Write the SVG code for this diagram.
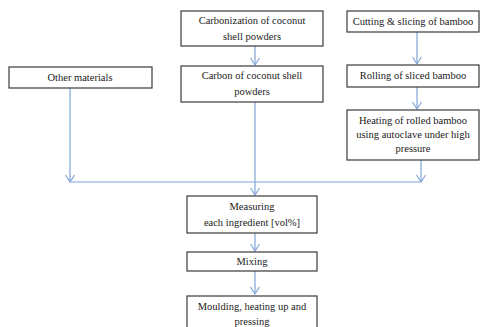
<svg xmlns="http://www.w3.org/2000/svg" width="485" height="327" viewBox="0 0 485 327">
<style>
.b{fill:#fff;stroke:#3a3a3a;stroke-width:1.2}
.t{font-family:"Liberation Serif",serif;font-size:10.5px;fill:#1a1a1a;text-anchor:middle}
.c{fill:none;stroke:#7ea6d8;stroke-width:1.2}
</style>
<defs>
<marker id="a" markerWidth="10" markerHeight="10" refX="5" refY="8" orient="auto" markerUnits="userSpaceOnUse" viewBox="0 0 10 10">
<path d="M1,1 L5,8 L9,1" fill="none" stroke="#7ea6d8" stroke-width="1.2" transform="rotate(-90 5 5)"/>
</marker>
<marker id="v" markerWidth="12" markerHeight="12" refX="6" refY="10" orient="0" markerUnits="userSpaceOnUse" viewBox="0 0 12 12">
<path d="M1.5,3 L6,10 L10.5,3" fill="none" stroke="#7ea6d8" stroke-width="1.2"/>
</marker>
</defs>
<rect width="485" height="327" fill="#fff"/>
<g id="connectors">
<path class="c" d="M255,46 V65" marker-end="url(#v)"/>
<path class="c" d="M417,32 V64" marker-end="url(#v)"/>
<path class="c" d="M417,87 V109" marker-end="url(#v)"/>
<path class="c" d="M70,88 V182" marker-end="url(#v)"/>
<path class="c" d="M421,160 V182" marker-end="url(#v)"/>
<path class="c" d="M70,182 H421"/>
<path class="c" d="M255,102 V195" marker-end="url(#v)"/>
<path class="c" d="M255,233 V251" marker-end="url(#v)"/>
<path class="c" d="M255,271 V294" marker-end="url(#v)"/>
</g>
<g id="n1"><rect class="b" x="181" y="11" width="142" height="35"/><text class="t" x="252" y="24">Carbonization of coconut</text><text class="t" x="252" y="40">shell powders</text></g>
<g id="n2"><rect class="b" x="181" y="66" width="142" height="36"/><text class="t" x="252" y="79">Carbon of coconut shell</text><text class="t" x="252" y="95">powders</text></g>
<g id="n3"><rect class="b" x="347" y="11" width="132" height="21"/><text class="t" x="413" y="25">Cutting &amp; slicing  of bamboo</text></g>
<g id="n4"><rect class="b" x="347" y="65" width="132" height="22"/><text class="t" x="413" y="79">Rolling of sliced bamboo</text></g>
<g id="n5"><rect class="b" x="347" y="110" width="132" height="50"/><text class="t" x="413" y="124">Heating of rolled  bamboo</text><text class="t" x="413" y="138">using autoclave  under high</text><text class="t" x="413" y="152">pressure</text></g>
<g id="n6"><rect class="b" x="9" y="67" width="143" height="21"/><text class="t" x="80" y="81">Other materials</text></g>
<g id="n7"><rect class="b" x="187" y="196" width="130" height="37"/><text class="t" x="252" y="210">Measuring</text><text class="t" x="252" y="226">each ingredient [vol%]</text></g>
<g id="n8"><rect class="b" x="187" y="252" width="130" height="19"/><text class="t" x="252" y="265">Mixing</text></g>
<g id="n9"><rect class="b" x="187" y="296" width="130" height="40"/><text class="t" x="252" y="310">Moulding, heating up and</text><text class="t" x="252" y="325">pressing</text></g>
</svg>
